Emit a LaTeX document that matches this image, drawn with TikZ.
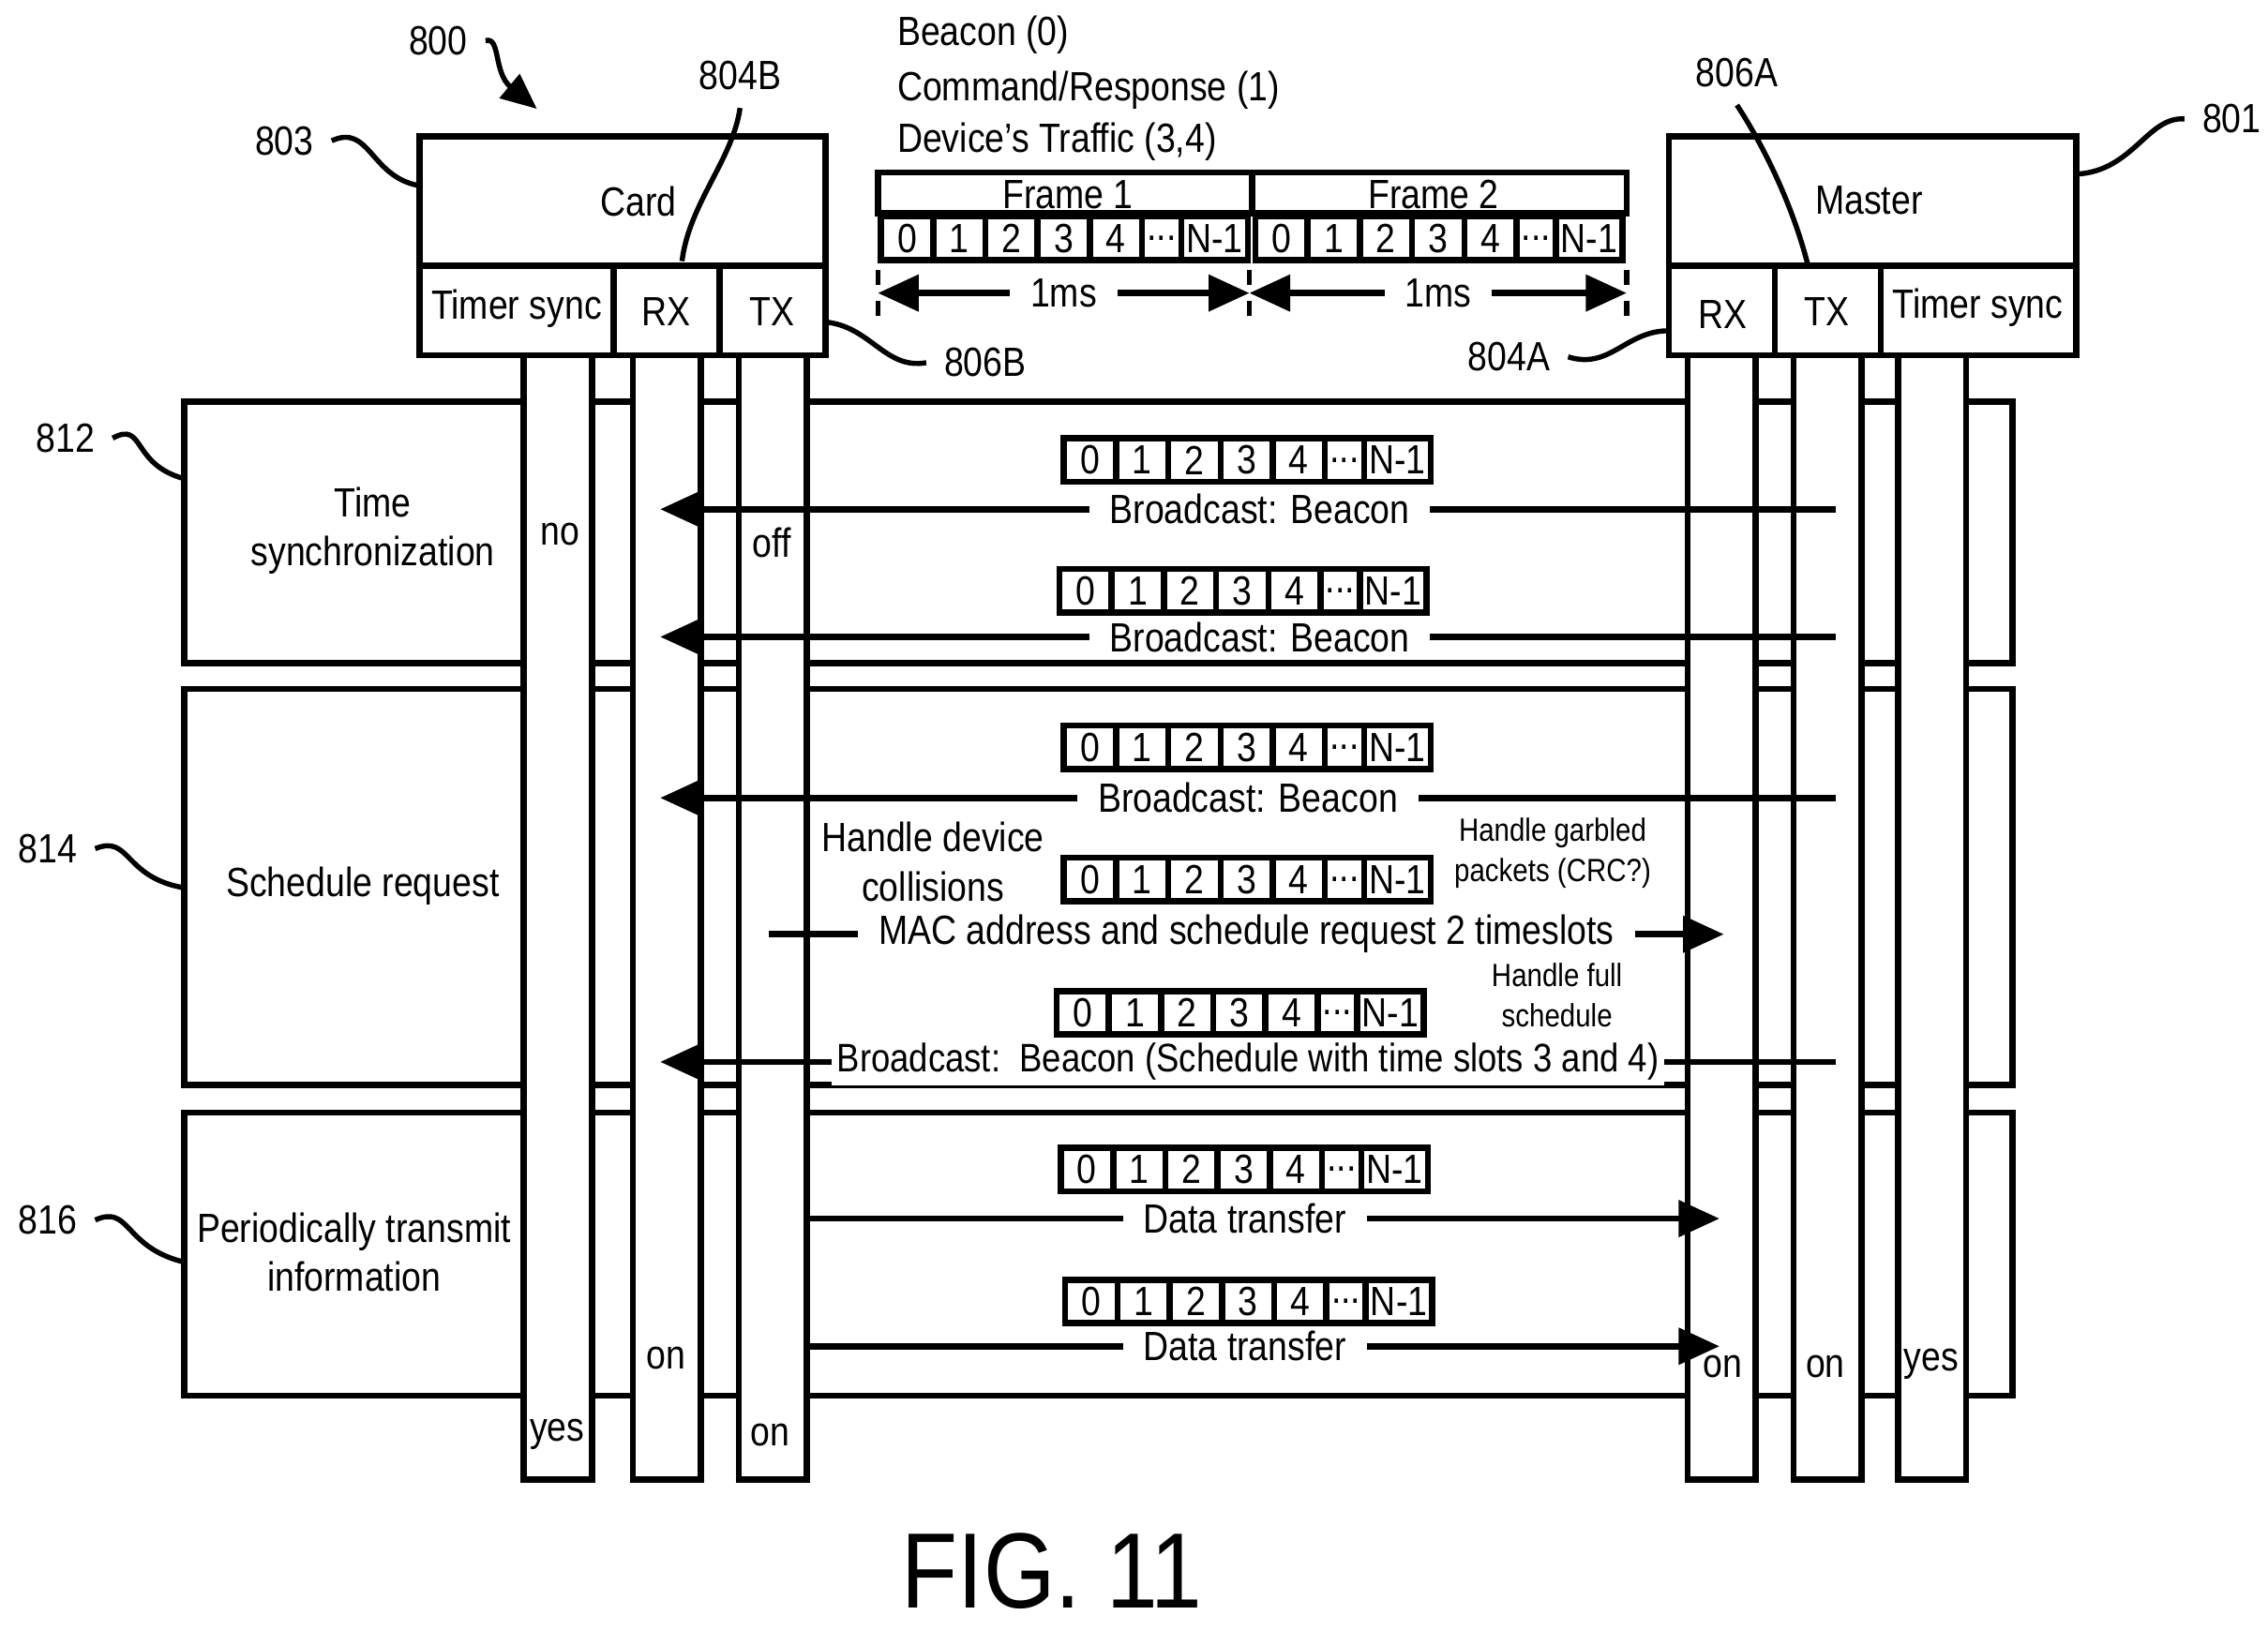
\documentclass[tikz,border=0pt]{standalone}
\usepackage{fontspec}
\setmainfont[FakeStretch=0.86]{Liberation Sans}
\usetikzlibrary{arrows.meta,positioning}

\tikzset{
  box/.style={draw, line width=1.2pt},
  life/.style={draw, fill=white, line width=1.2pt},
  cell/.style={draw, line width=1.2pt, minimum height=0.3cm, inner sep=0pt, anchor=north west},
  msg/.style={line width=1.2pt, -{Triangle[length=8pt,width=7pt]}},
  lab/.style={fill=white, inner xsep=4pt, inner ysep=1pt, font=\fontsize{8}{9}\selectfont},
  txt/.style={font=\fontsize{8}{9.6}\selectfont, align=center},
  small/.style={font=\fontsize{6.3}{8}\selectfont, align=center},
  squig/.style={line width=1pt}
}

\newcommand{\sdots}{...}
% slot strip at (x,y)
\newcommand{\slots}[2]{%
  \foreach \lbl/\dx/\w in {0/0/36,1/36/36,2/72/36,3/108/36,4/144/36,\sdots/180/27,N-1/207/46}
    \node[cell, minimum width=\w*0.01cm] at (#1+\dx,#2) {\fontsize{8}{9}\selectfont\lbl};
}

\begin{document}
\begin{tikzpicture}[x=0.01cm, y=-0.01cm]
\useasboundingbox (0,0) rectangle (1563,1123);

% phase boxes
\draw[box] (127,277) rectangle (1387,457);
\draw[box] (127,475) rectangle (1387,748);
\draw[box] (127,767) rectangle (1387,962);

% card and master
\draw[box] (289,94) rectangle (569,245);
\draw[box] (289,183) -- (569,183) (423,183) -- (423,245) (496,183) -- (496,245);
\node[txt] at (440,139) {Card};
\node[txt] at (356,213) {Timer sync};
\node[txt] at (459,215) {RX};
\node[txt] at (532,215) {TX};
\draw[box] (1150,94) rectangle (1431,245);
\draw[box] (1150,183) -- (1431,183) (1223,183) -- (1223,245) (1296,183) -- (1296,245);
\node[txt] at (1288,138) {Master};
\node[txt] at (1187,217) {RX};
\node[txt] at (1259,215) {TX};
\node[txt] at (1363,212) {Timer sync};

% lifelines
\foreach \x in {361,436,509,1163,1236,1308}
  \draw[life] (\x,245) rectangle (\x+47,1020);

% top frames
\node[txt, anchor=west] at (606,24) {Beacon (0)};
\node[txt, anchor=west] at (606,62) {Command/Response (1)};
\node[txt, anchor=west] at (606,98) {Device’s Traffic (3,4)};
\draw[box] (605,119) rectangle (863,147);
\draw[box] (863,119) rectangle (1121,147);
\node[txt] at (736,134) {Frame 1};
\node[txt] at (988,134) {Frame 2};
\begin{scope}[every node/.append style={minimum height=0.39cm}]
\slots{605}{147}
\slots{863}{147}
\end{scope}
\coordinate (ms0) at (605,202);
\coordinate (ms1) at (861,202);
\coordinate (ms2) at (1121,202);
\draw[dashed, line width=1pt] (605,186) -- (605,222) (861,186) -- (861,222) (1121,186) -- (1121,222);
\draw[line width=1.2pt, {Triangle[length=8pt,width=7pt]}-{Triangle[length=8pt,width=7pt]}] (ms0) -- node[lab] {1ms} (ms1);
\draw[line width=1.2pt, {Triangle[length=8pt,width=7pt]}-{Triangle[length=8pt,width=7pt]}] (ms1) -- node[lab] {1ms} (ms2);

% messages
\slots{731}{300}
\draw[msg] (1265,351) -- node[lab, pos=0.49] {Broadcast: Beacon} (455,351);
\slots{728}{390}
\draw[msg] (1265,439) -- node[lab, pos=0.49] {Broadcast: Beacon} (455,439);
\slots{731}{498}
\draw[msg] (1265,550) -- node[lab, pos=0.5] {Broadcast: Beacon} (455,550);
\slots{731}{589}
\draw[msg] (530,644) -- node[lab, pos=0.5] {MAC address and schedule request 2 timeslots} (1188,644);
\slots{726}{681}
\draw[msg] (1265,732) -- node[lab, pos=0.5, inner xsep=1pt, font=\fontsize{7.8}{9}\selectfont] {Broadcast:\ \ Beacon (Schedule with time slots 3 and 4)} (455,732);
\slots{729}{789}
\draw[msg] (556,840) -- node[lab, pos=0.48] {Data transfer} (1185,840);
\slots{732}{880}
\draw[msg] (556,928) -- node[lab, pos=0.48] {Data transfer} (1185,928);

\node[txt] at (643,594) {Handle device\\collisions};
\node[small] at (1070,588) {Handle garbled\\packets (CRC?)};
\node[small] at (1073,686) {Handle full\\schedule};

% lifeline states
\node[txt] at (386,368) {no};
\node[txt] at (532,374) {off};
\node[txt] at (459,936) {on};
\node[txt] at (384,989) {yes};
\node[txt] at (531,989) {on};
\node[txt] at (1187,942) {on};
\node[txt] at (1258,942) {on};
\node[txt] at (1331,940) {yes};

% phases
\node[txt] at (257,366) {Time\\synchronization};
\node[txt] at (250,611) {Schedule request};
\node[txt, fill=white, inner sep=1pt] at (244,863) {Periodically transmit\\information};

% reference numerals
\node[txt] (n812) at (45,302) {812};
\draw[squig] (n812.east) .. controls (100,290) and (90,320) .. (127,330);
\node[txt] (n814) at (33,585) {814};
\draw[squig] (n814.east) .. controls (90,575) and (85,605) .. (127,612);
\node[txt] (n816) at (33,841) {816};
\draw[squig] (n816.east) .. controls (90,830) and (85,860) .. (127,870);
\node[txt] (n803) at (196,97) {803};
\draw[squig] (n803.east) .. controls (255,85) and (255,122) .. (289,128);
\node[txt] (n801) at (1538,82) {801};
\draw[squig] (n801.west) .. controls (1480,80) and (1470,118) .. (1431,120);
\node[txt] (n800) at (302,28) {800};
\draw[squig, -{Triangle[length=7pt,width=6pt]}] (n800.east) .. controls (345,25) and (340,50) .. (370,75);
\node[txt] (n804B) at (510,52) {804B};
\draw[squig] (n804B.south) .. controls (505,110) and (475,140) .. (470,180);
\node[txt] (n806A) at (1197,50) {806A};
\draw[squig] (n806A.south) .. controls (1215,100) and (1235,140) .. (1246,183);
\node[txt] (n806B) at (679,250) {806B};
\draw[squig] (n806B.west) .. controls (610,255) and (600,225) .. (569,222);
\node[txt] (n804A) at (1040,246) {804A};
\draw[squig] (n804A.east) .. controls (1110,255) and (1120,228) .. (1150,228);

\node[font=\fontsize{21}{24}\selectfont] at (725,1083) {FIG. 11};
\end{tikzpicture}
\end{document}
